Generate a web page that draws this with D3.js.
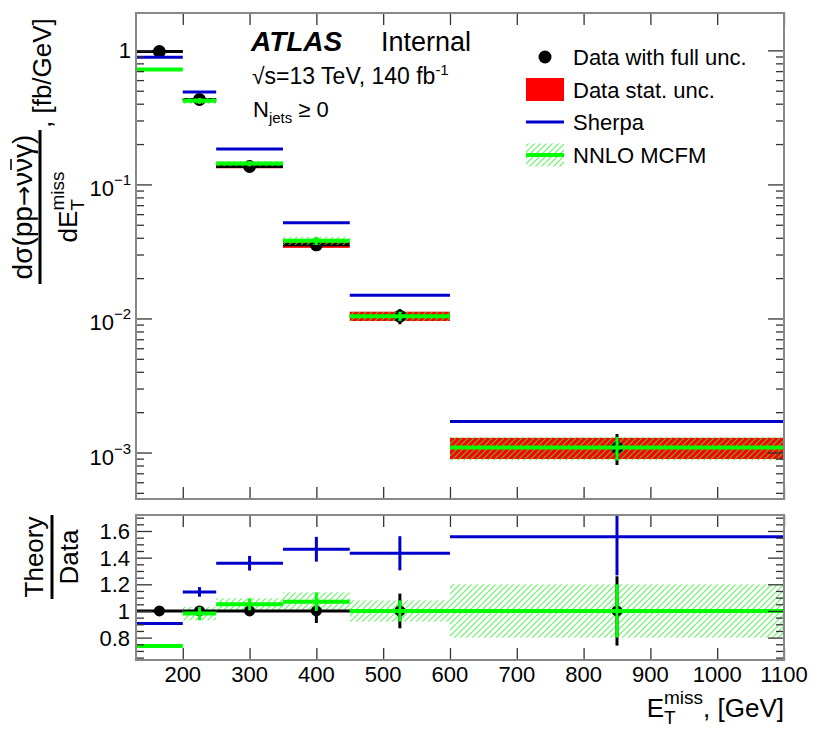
<!DOCTYPE html>
<html>
<head>
<meta charset="utf-8">
<script src="https://cdn.jsdelivr.net/npm/d3@7"></script>
<style>
  body { margin: 0; background: #fff; }
  svg { font-family: "Liberation Sans", Arial, Helvetica, sans-serif; }
</style>
</head>
<body>
<svg id="chart" width="819" height="729"></svg>
<script>
/**
 * DATA
 * */
const binLow = [130, 200, 250, 350, 450, 600];
const binHigh = [200, 250, 350, 450, 600, 1100];
const binCenter = [165, 225, 300, 400, 525, 850];

// differential cross section, fb/GeV
const dataXsec = [0.98, 0.43, 0.136, 0.0354, 0.0104, 0.00109];
const dataStatRel = [0.015, 0.025, 0.03, 0.05, 0.08, 0.18];
const dataTotRel = [0.02, 0.03, 0.035, 0.09, 0.13, 0.26];
const sherpaXsec = [0.89, 0.49, 0.184, 0.0518, 0.0149, 0.0017];
const mcfmXsec = [0.72, 0.42, 0.143, 0.038, 0.0104, 0.00109];

// theory / data
const sherpaRatio = [0.905, 1.143, 1.358, 1.463, 1.433, 1.557];
const sherpaRatioErr = [0.01, 0.036, 0.055, 0.093, 0.128, 0.29];
const mcfmRatio = [0.737, 0.98, 1.05, 1.07, 1.0, 1.0];
const mcfmRatioErr = [0.01, 0.05, 0.045, 0.07, 0.08, 0.2];

const xTicks = [200, 300, 400, 500, 600, 700, 800, 900, 1000, 1100];
const yTopTicks = [1e-3, 1e-2, 1e-1, 1];
const yTopTickLabels = [["10", "\u22123"], ["10", "\u22122"], ["10", "\u22121"], ["1", ""]];
const yRatioTicks = [0.8, 1, 1.2, 1.4, 1.6];
const yRatioTickLabels = ["0.8", "1", "1.2", "1.4", "1.6"];
const legendLabels = ["Data with full unc.", "Data stat. unc.", "Sherpa", "NNLO MCFM"];

/**
 * CONSTANTS
 * */
const frame = { left: 136, right: 784 };
const topPanel = { top: 13, bottom: 499 };
const ratioPanel = { top: 515, bottom: 660 };
const colors = { data: "#000", stat: "#ff0000", sherpa: "#0000cc", mcfm: "#00ff00" };

const svg = d3.select("#chart");

const x = d3.scaleLinear().domain([130, 1100]).range([frame.left, frame.right]);
const yTop = d3.scaleLog().domain([4.5e-4, 1.9]).range([topPanel.bottom, topPanel.top]);
const yRatio = d3.scaleLinear().domain([0.632, 1.72]).range([ratioPanel.bottom, ratioPanel.top]);

const bins = binLow.map((lo, i) => ({
  lo, hi: binHigh[i], c: binCenter[i],
  data: dataXsec[i], stat: dataStatRel[i], tot: dataTotRel[i],
  sherpa: sherpaXsec[i], mcfm: mcfmXsec[i],
  rS: sherpaRatio[i], rSe: sherpaRatioErr[i],
  rM: mcfmRatio[i], rMe: mcfmRatioErr[i]
}));

// hatch pattern + clips
const defs = svg.append("defs");
defs.append("pattern")
  .attr("id", "hatch")
  .attr("patternUnits", "userSpaceOnUse")
  .attr("width", 6).attr("height", 6)
  .append("path")
  .attr("d", "M0,6 L6,0 M-1,1 L1,-1 M5,7 L7,5")
  .attr("stroke", "#33ee33")
  .attr("stroke-opacity", 0.75)
  .attr("stroke-width", 1.2);

[["clipTop", topPanel], ["clipRatio", ratioPanel]].forEach(([id, p]) => {
  defs.append("clipPath").attr("id", id)
    .append("rect")
    .attr("x", frame.left).attr("y", p.top)
    .attr("width", frame.right - frame.left).attr("height", p.bottom - p.top);
});

/**
 * HELPERS
 * */
function hLine(g, d, yv, color, w) {
  g.append("line")
    .attr("x1", x(d.lo)).attr("x2", x(d.hi))
    .attr("y1", yv).attr("y2", yv)
    .attr("stroke", color).attr("stroke-width", w);
}
function vLine(g, d, y1, y2, color, w) {
  g.append("line")
    .attr("x1", x(d.c)).attr("x2", x(d.c))
    .attr("y1", y1).attr("y2", y2)
    .attr("stroke", color).attr("stroke-width", w);
}
function band(g, d, y1, y2, fill) {
  g.append("rect")
    .attr("x", x(d.lo)).attr("width", x(d.hi) - x(d.lo))
    .attr("y", Math.min(y1, y2)).attr("height", Math.abs(y2 - y1))
    .attr("fill", fill);
}
function tickAxis(axisFn, scale, values, size, transform) {
  svg.append("g")
    .attr("transform", transform)
    .call(axisFn(scale).tickValues(values).tickSize(size).tickFormat(""))
    .call(g => g.select(".domain").remove())
    .call(g => g.selectAll("line").attr("stroke", "#333").attr("stroke-width", 1.3));
}

/**
 * TOP PANEL
 * */
const gTop = svg.append("g").attr("clip-path", "url(#clipTop)");
bins.forEach(d => {
  band(gTop, d, yTop(d.data * (1 + d.stat)), yTop(d.data * (1 - d.stat)), colors.stat);
  hLine(gTop, d, yTop(d.data), colors.data, 3);
  vLine(gTop, d, yTop(d.data * (1 + d.tot)), yTop(d.data * (1 - d.tot)), colors.data, 3);
  gTop.append("circle").attr("cx", x(d.c)).attr("cy", yTop(d.data)).attr("r", 6.5).attr("fill", colors.data);
});
bins.forEach(d => {
  band(gTop, d, yTop(d.mcfm * (1 + d.rMe)), yTop(d.mcfm * (1 - d.rMe)), "url(#hatch)");
  hLine(gTop, d, yTop(d.mcfm), colors.mcfm, 4);
  vLine(gTop, d, yTop(d.mcfm * (1 + d.rMe)), yTop(d.mcfm * (1 - d.rMe)), colors.mcfm, 3);
  hLine(gTop, d, yTop(d.sherpa), colors.sherpa, 3);
});

/**
 * RATIO PANEL
 * */
const gRat = svg.append("g").attr("clip-path", "url(#clipRatio)");
bins.forEach(d => {
  band(gRat, d, yRatio(d.rM + d.rMe), yRatio(d.rM - d.rMe), "url(#hatch)");
});
bins.forEach(d => {
  hLine(gRat, d, yRatio(1), colors.data, 3);
  vLine(gRat, d, yRatio(1 + d.tot), yRatio(1 - d.tot), colors.data, 3);
  gRat.append("circle").attr("cx", x(d.c)).attr("cy", yRatio(1)).attr("r", 5.5).attr("fill", colors.data);
});
bins.forEach(d => {
  hLine(gRat, d, yRatio(d.rM), colors.mcfm, 4);
  vLine(gRat, d, yRatio(d.rM + d.rMe), yRatio(d.rM - d.rMe), colors.mcfm, 3);
});
bins.forEach(d => {
  hLine(gRat, d, yRatio(d.rS), colors.sherpa, 3);
  vLine(gRat, d, yRatio(d.rS + d.rSe), yRatio(d.rS - d.rSe), colors.sherpa, 3);
});

/**
 * AXES, TICKS, FRAMES
 * */
const logMinor = [];
[-4, -3, -2, -1, 0].forEach(e => {
  d3.range(2, 10).forEach(m => {
    const v = m * Math.pow(10, e);
    if (v > 4.5e-4 && v < 1.9) logMinor.push(v);
  });
});
const ratioMinor = d3.range(13, 35).filter(i => i % 4 !== 0).map(i => i * 0.05);

[topPanel, ratioPanel].forEach(p => {
  tickAxis(d3.axisBottom, x, xTicks, -12, `translate(0,${p.bottom})`);
  tickAxis(d3.axisTop, x, xTicks, -12, `translate(0,${p.top})`);
});
tickAxis(d3.axisLeft, yTop, yTopTicks, -16, `translate(${frame.left},0)`);
tickAxis(d3.axisLeft, yTop, logMinor, -8, `translate(${frame.left},0)`);
tickAxis(d3.axisRight, yTop, yTopTicks, -16, `translate(${frame.right},0)`);
tickAxis(d3.axisRight, yTop, logMinor, -8, `translate(${frame.right},0)`);
tickAxis(d3.axisLeft, yRatio, yRatioTicks, -16, `translate(${frame.left},0)`);
tickAxis(d3.axisLeft, yRatio, ratioMinor, -8, `translate(${frame.left},0)`);
tickAxis(d3.axisRight, yRatio, yRatioTicks, -16, `translate(${frame.right},0)`);
tickAxis(d3.axisRight, yRatio, ratioMinor, -8, `translate(${frame.right},0)`);

[topPanel, ratioPanel].forEach(p => {
  svg.append("rect")
    .attr("x", frame.left).attr("y", p.top)
    .attr("width", frame.right - frame.left).attr("height", p.bottom - p.top)
    .attr("fill", "none").attr("stroke", "#888").attr("stroke-width", 2);
});

// tick labels
svg.append("g").selectAll("text")
  .data(xTicks).join("text")
  .attr("x", d => x(d)).attr("y", 682)
  .attr("text-anchor", "middle").attr("font-size", 22)
  .text(d => d);

yTopTicks.forEach((v, i) => {
  const [base, exp] = yTopTickLabels[i];
  const t = svg.append("text")
    .attr("x", 131).attr("y", yTop(v) + (exp ? 12 : 8))
    .attr("text-anchor", "end").attr("font-size", 22)
    .text(base);
  if (exp) t.append("tspan").attr("dy", -11).attr("font-size", 15).text(exp);
});

svg.append("g").selectAll("text")
  .data(yRatioTicks).join("text")
  .attr("x", 130).attr("y", d => yRatio(d) + 8)
  .attr("text-anchor", "end").attr("font-size", 22)
  .text((d, i) => yRatioTickLabels[i]);

/**
 * AXIS TITLES
 * */
// x title
const xTitle = svg.append("text").attr("y", 717).attr("font-size", 26);
xTitle.append("tspan").text("E");
xTitle.append("tspan").attr("dy", 7).attr("font-size", 19).text("T");
xTitle.append("tspan").attr("dx", -11.6).attr("dy", -20).attr("font-size", 19).text("miss");
xTitle.append("tspan").attr("dy", 13).text(", [GeV]");
const xw = xTitle.node().getBBox().width;
xTitle.attr("x", frame.right - xw);

// top y title (rotated fraction)
const gY = svg.append("g").attr("transform", "translate(40,207) rotate(-90)").attr("font-size", 26);
gY.append("line").attr("x1", -77).attr("x2", 77).attr("y1", 0).attr("y2", 0)
  .attr("stroke", "#000").attr("stroke-width", 3);
const num = gY.append("text").attr("x", 0).attr("y", -8).attr("text-anchor", "middle")
  .attr("font-size", 28);
num.append("tspan").text("d\u03c3(pp");
num.append("tspan").attr("font-family", "DejaVu Sans").attr("font-size", 24).text("\u2192");
num.append("tspan").text("\u03bd\u03bd\u03b3)");
{
  const n = num.node();
  const a = n.getStartPositionOfChar(7), b = n.getEndPositionOfChar(7);
  gY.append("line").attr("x1", a.x + 2).attr("x2", b.x - 1)
    .attr("y1", -29).attr("y2", -29).attr("stroke", "#000").attr("stroke-width", 1.6);
}
const den = gY.append("text").attr("y", 37);
den.append("tspan").text("dE");
den.append("tspan").attr("dy", 7).attr("font-size", 19).text("T");
den.append("tspan").attr("dx", -11.6).attr("dy", -20).attr("font-size", 19).text("miss");
const dw = den.node().getBBox().width;
den.attr("x", -dw / 2);
gY.append("text").attr("x", 79).attr("y", 11).text(", [fb/GeV]");

// ratio y title
const gR = svg.append("g").attr("transform", "translate(52,557) rotate(-90)").attr("font-size", 26);
gR.append("line").attr("x1", -42).attr("x2", 42).attr("y1", 0).attr("y2", 0)
  .attr("stroke", "#000").attr("stroke-width", 3);
gR.append("text").attr("y", -9).attr("text-anchor", "middle").text("Theory");
gR.append("text").attr("y", 26).attr("text-anchor", "middle").text("Data");

/**
 * LABELS
 * */
svg.append("text").attr("x", 251).attr("y", 51).attr("font-size", 28)
  .attr("font-weight", "bold").attr("font-style", "italic").text("ATLAS");
svg.append("text").attr("x", 381).attr("y", 51).attr("font-size", 27).text("Internal");

const lumi = svg.append("text").attr("x", 252).attr("y", 84).attr("font-size", 23);
lumi.append("tspan").text("\u221as=13 TeV, 140 fb");
lumi.append("tspan").attr("dy", -9).attr("font-size", 15).text("-1");

const nj = svg.append("text").attr("x", 253).attr("y", 117).attr("font-size", 22);
nj.append("tspan").text("N");
nj.append("tspan").attr("dy", 6).attr("font-size", 15).text("jets");
nj.append("tspan").attr("dy", -6).text(" \u2265 0");

/**
 * LEGEND
 * */
const lg = svg.append("g").attr("font-size", 22);
const rowY = [57, 89.5, 122, 155];
lg.append("circle").attr("cx", 545).attr("cy", rowY[0]).attr("r", 6.5).attr("fill", colors.data);
lg.append("rect").attr("x", 526).attr("y", rowY[1] - 11.5).attr("width", 38).attr("height", 23).attr("fill", colors.stat);
lg.append("line").attr("x1", 526).attr("x2", 564).attr("y1", rowY[2]).attr("y2", rowY[2])
  .attr("stroke", colors.sherpa).attr("stroke-width", 3);
lg.append("rect").attr("x", 526).attr("y", rowY[3] - 11.5).attr("width", 38).attr("height", 23).attr("fill", "url(#hatch)");
lg.append("line").attr("x1", 526).attr("x2", 564).attr("y1", rowY[3]).attr("y2", rowY[3])
  .attr("stroke", colors.mcfm).attr("stroke-width", 4);
lg.selectAll("text.leg")
  .data(legendLabels).join("text")
  .attr("class", "leg")
  .attr("x", 573).attr("y", (d, i) => rowY[i] + 8)
  .text(d => d);
</script>
</body>
</html>
